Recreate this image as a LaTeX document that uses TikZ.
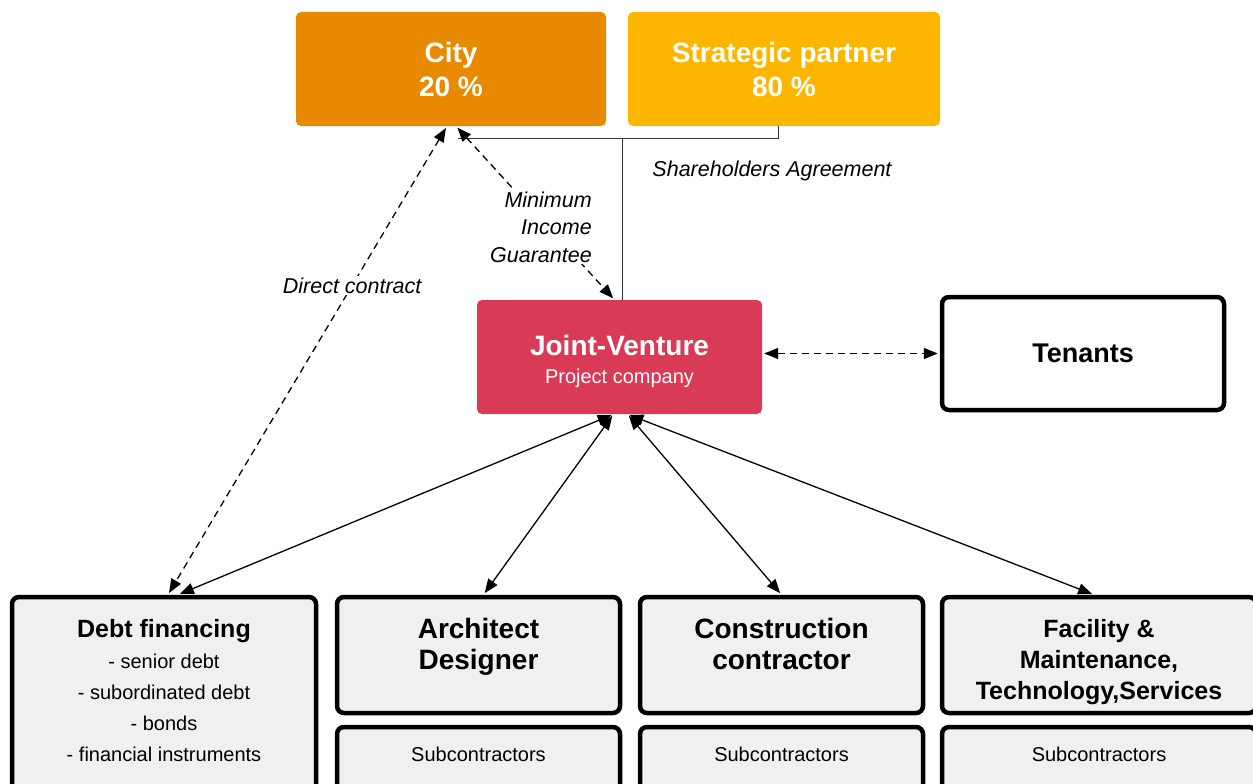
\documentclass[tikz,border=0pt]{standalone}
\usepackage{fontspec}
\setmainfont{Liberation Sans}
\usetikzlibrary{arrows.meta, calc}

\definecolor{cityorange}{HTML}{E88A00}
\definecolor{partneryellow}{HTML}{FDB600}
\definecolor{jvred}{HTML}{D93A55}
\definecolor{boxgray}{HTML}{F0F0F0}

\begin{document}
\begin{tikzpicture}[x=1pt, y=-1pt,
  >={Triangle[length=14pt,width=11pt]},
  topbox/.style={rectangle, rounded corners=5pt, minimum height=114pt, inner sep=0pt,
    text=white, align=center, font=\fontsize{28}{34}\selectfont\bfseries},
  framebox/.style={rectangle, draw=black, line width=4.5pt, rounded corners=7pt, fill=boxgray, inner sep=0pt},
  titletext/.style={anchor=north, inner sep=0pt, align=center, font=\fontsize{28}{31}\selectfont\bfseries},
  subtext/.style={inner sep=0pt, font=\fontsize{20}{24}\selectfont},
  italictext/.style={inner sep=2pt, font=\fontsize{21.5}{27.5}\selectfont\itshape},
  link/.style={line width=1.3pt, shorten >=2pt, shorten <=2pt}]

	% page size, the lower boxes run off the bottom edge
	\useasboundingbox (0,0) rectangle (1253,784);
	\clip (0,0) rectangle (1253,784);

	% shareholders
	\node[topbox, fill=cityorange, minimum width=310pt] (city) at (451,69) {City\\20 \%};
	\node[topbox, fill=partneryellow, minimum width=312pt] (partner) at (784,69) {Strategic partner\\80 \%};

	% project company and tenants
	\node[rectangle, rounded corners=5pt, fill=jvred, minimum width=285pt, minimum height=114pt, inner sep=0pt] (jv) at (619.5,357) {};
	\node[inner sep=0pt, text=white, align=center, font=\fontsize{20}{28}\selectfont] (jv-txt) at ([yshift=-4pt]jv.center)
	      {{\fontsize{28}{28}\selectfont\bfseries Joint-Venture}\\Project company};
	\node[framebox, fill=white, minimum width=282pt, minimum height=113pt,
	      font=\fontsize{27}{30}\selectfont\bfseries] (tenants) at (1083,353.5) {Tenants};

	% lower row
	\node[framebox, minimum width=304pt, minimum height=201pt] (debt) at (164,697.5) {};
	\node[framebox, minimum width=283pt, minimum height=116pt] (arch) at (478.5,655) {};
	\node[framebox, minimum width=283pt, minimum height=71pt] (archsub) at (478.5,762.5) {};
	\node[framebox, minimum width=283pt, minimum height=116pt] (cons) at (781.5,655) {};
	\node[framebox, minimum width=283pt, minimum height=71pt] (conssub) at (781.5,762.5) {};
	\node[framebox, minimum width=314pt, minimum height=116pt] (fac) at (1099,655) {};
	\node[framebox, minimum width=314pt, minimum height=71pt] (facsub) at (1099,762.5) {};

	\node[titletext, font=\fontsize{20}{31}\selectfont] (debt-txt) at ([yshift=-24pt]debt.north)
	      {{\fontsize{25}{31}\selectfont\bfseries Debt financing}\\- senior debt\\- subordinated debt\\- bonds\\- financial instruments};
	\node[titletext] (arch-txt) at ([yshift=-23pt]arch.north) {Architect\\Designer};
	\node[titletext] (cons-txt) at ([yshift=-23pt]cons.north) {Construction\\contractor};
	\node[titletext, font=\fontsize{25}{31}\selectfont\bfseries] (fac-txt) at ([yshift=-24pt]fac.north)
	      {Facility \&\\Maintenance,\\Technology,Services};
	\foreach \b in {archsub, conssub, facsub}
		\node[subtext] (\b-txt) at ([yshift=-30pt]\b.north) {Subcontractors};

	% shareholders agreement
	\coordinate (barL) at (458,138);
	\coordinate (barM) at (622,138);
	\draw[line width=1pt, black!80] ([xshift=-6pt]partner.south) |- (barL);
	\draw[line width=1pt, black!80] (barM) -- (barM |- jv.north);
	\node[italictext] (sha-lbl) at (772,171) {Shareholders Agreement};

	% contracts around the city
	\draw[link, dash pattern=on 7pt off 5pt, <->] ([xshift=-4pt]city.south) --
		node[pos=0.34, fill=white, italictext] (dc-lbl) {Direct contract} ([xshift=4pt]debt.north);
	\draw[link, dash pattern=on 7pt off 5pt, <->] ([xshift=5pt]city.south) --
		node[pos=0.58, xshift=-7pt, fill=white, align=right, italictext] (mig-lbl) {Minimum\\Income\\Guarantee} ([xshift=-5pt]jv.north);
	\draw[link, dash pattern=on 7pt off 5pt, <->] (jv.east |- tenants.west) -- (tenants.west);

	% project company to the contractors
	\draw[link, <->] ([xshift=-6pt]jv.south) -- ([xshift=14pt]debt.north);
	\draw[link, <->] ([xshift=-6pt]jv.south) -- ([xshift=5pt]arch.north);
	\draw[link, <->] ([xshift=8pt]jv.south) -- (cons.north);
	\draw[link, <->] ([xshift=8pt]jv.south) -- ([xshift=-5pt]fac.north);

\end{tikzpicture}
\end{document}
